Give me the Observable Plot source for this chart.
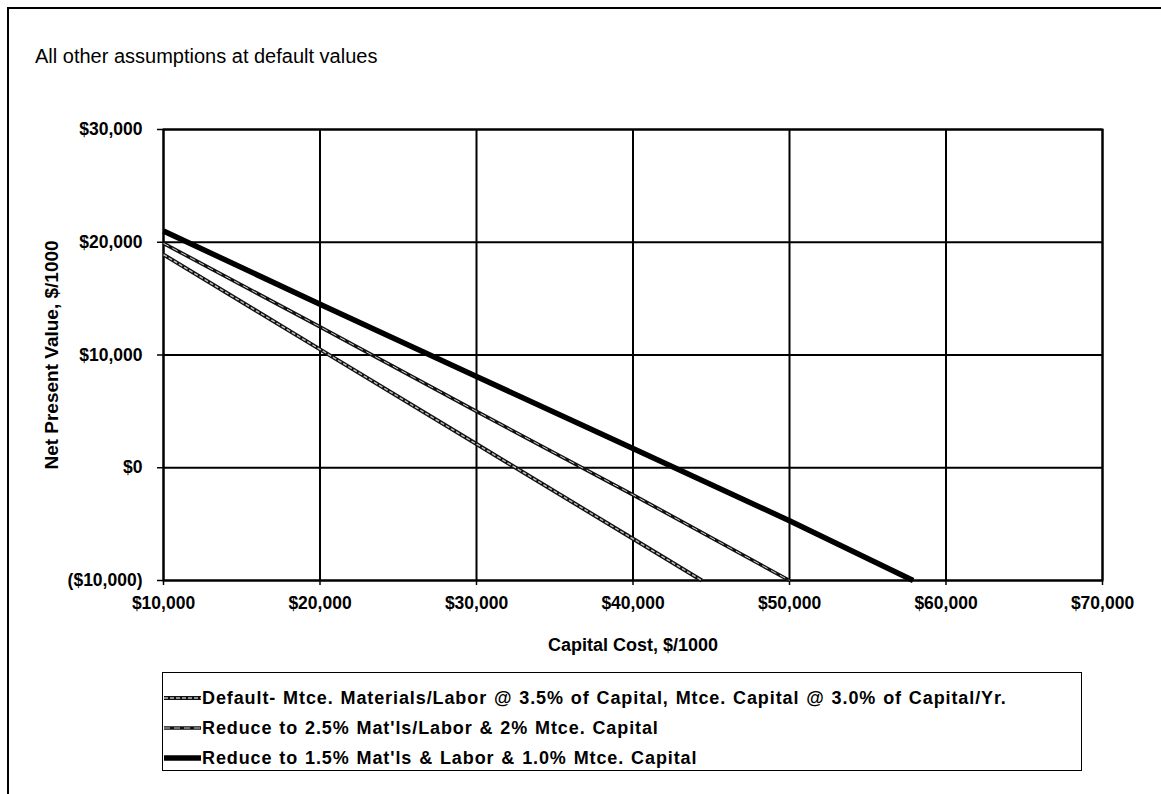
<!DOCTYPE html>
<html>
<head>
<meta charset="utf-8">
<script src="https://cdn.jsdelivr.net/npm/d3@7"></script>
<script src="https://cdn.jsdelivr.net/npm/@observablehq/plot@0.6"></script>
<style>
  body { margin: 0; background: #fff; }
  #page { position: relative; width: 1161px; height: 794px; overflow: hidden; font-family: "Liberation Sans", Arial, sans-serif; color: #000; }
  #border { position: absolute; left: 7px; top: 7px; width: 1170px; height: 785px; border-left: 2px solid #000; border-top: 2px solid #000; border-bottom: 1px solid #bbb; }
  #title { position: absolute; left: 35px; top: 45px; font-size: 20px; white-space: nowrap; }
  #chart { position: absolute; left: 0; top: 0; }
  #legend { position: absolute; left: 162px; top: 672px; width: 918px; height: 97px; border: 1.5px solid #000; background: #fff; }
  .row { position: absolute; left: 0; height: 30px; display: flex; align-items: center; white-space: nowrap; font-weight: bold; font-size: 18px; letter-spacing: 0.9px; word-spacing: 1px; }
  .row svg { display: block; margin-right: 1px; }
</style>
</head>
<body>
<div id="page">
  <div id="border"></div>
  <div id="title">All other assumptions at default values</div>
  <div id="chart"></div>
  <div id="legend"></div>
</div>
<script>
// Net present value ($/1000) against capital cost ($/1000) for three maintenance assumptions
const seriesNames = [
  "Default- Mtce. Materials/Labor @ 3.5% of Capital, Mtce. Capital @ 3.0% of Capital/Yr.",
  "Reduce to 2.5% Mat'ls/Labor & 2% Mtce. Capital",
  "Reduce to 1.5% Mat'ls & Labor & 1.0% Mtce. Capital"
];
const defaultCost = [10000, 20000, 30000, 40000, 44400];
const defaultNpv  = [18900, 10500, 2100, -6300, -10000];
const reduce2Cost = [10000, 20000, 30000, 40000, 50000];
const reduce2Npv  = [19900, 12500, 5000, -2400, -10000];
const reduce1Cost = [10000, 20000, 30000, 40000, 50000, 57900];
const reduce1Npv  = [21000, 14500, 8100, 1700, -4700, -10000];

const xTicks = [10000, 20000, 30000, 40000, 50000, 60000, 70000];
const yTicks = [-10000, 0, 10000, 20000, 30000];

const toRows = (costs, npvs, name) => costs.map((c, i) => ({cost: c, npv: npvs[i], series: name}));
const rowsDefault = toRows(defaultCost, defaultNpv, seriesNames[0]);
const rowsReduce2 = toRows(reduce2Cost, reduce2Npv, seriesNames[1]);
const rowsReduce1 = toRows(reduce1Cost, reduce1Npv, seriesNames[2]);

// Accounting-style currency: $10,000 and ($10,000)
const money = v => {
  const s = "$" + d3.format(",")(Math.abs(v));
  return v < 0 ? "(" + s + ")" : s;
};

// Line styles: outlined grey line, outlined light line, solid heavy line
const styles = [
  [{stroke: "#111", strokeWidth: 4}, {stroke: "#bdbdbd", strokeWidth: 1.4, strokeDasharray: "4,2"}],
  [{stroke: "#111", strokeWidth: 3.6}, {stroke: "#e6e6e6", strokeWidth: 0.9, strokeDasharray: "6,4"}],
  [{stroke: "#000", strokeWidth: 5.5}]
];
const seriesRows = [rowsDefault, rowsReduce2, rowsReduce1];

const lineMarks = seriesRows.flatMap((rows, i) =>
  styles[i].map(s => Plot.line(rows, {x: "cost", y: "npv", ...s, strokeLinecap: "butt"}))
);

const chart = Plot.plot({
  width: 1161,
  height: 794,
  marginLeft: 163,
  marginRight: 59,
  marginTop: 129,
  marginBottom: 214,
  x: {domain: [10000, 70000]},
  y: {domain: [-10000, 30000]},
  style: {fontFamily: "'Liberation Sans', Arial, sans-serif", fontSize: "17.5px", fontWeight: "bold", color: "#000", background: "transparent"},
  marks: [
    Plot.gridX(xTicks, {stroke: "#000", strokeOpacity: 1, strokeWidth: 2}),
    Plot.gridY(yTicks, {stroke: "#000", strokeOpacity: 1, strokeWidth: 2}),
    Plot.frame({stroke: "#000", strokeWidth: 2}),
    Plot.axisX(xTicks, {
      tickFormat: money, tickSize: 5, tickPadding: 11, strokeWidth: 1.5, label: null
    }),
    Plot.axisX([], {
      label: "Capital Cost, $/1000", labelAnchor: "center", labelArrow: "none", labelOffset: 70, fontSize: 18
    }),
    Plot.axisY(yTicks, {
      tickFormat: money, tickSize: 6, tickPadding: 15, strokeWidth: 1.5, label: null
    }),
    Plot.axisY([], {
      label: "Net Present Value, $/1000", labelAnchor: "center", labelArrow: "none", labelOffset: 119, fontSize: 19
    }),
    ...lineMarks
  ]
});
document.getElementById("chart").appendChild(chart);

// Legend rows with line swatches
const legend = document.getElementById("legend");
seriesNames.forEach((name, i) => {
  const row = document.createElement("div");
  row.className = "row";
  row.style.top = (10 + i * 30) + "px";
  const ns = "http://www.w3.org/2000/svg";
  const sw = document.createElementNS(ns, "svg");
  sw.setAttribute("width", 38);
  sw.setAttribute("height", 10);
  styles[i].forEach(s => {
    const l = document.createElementNS(ns, "line");
    l.setAttribute("x1", 1); l.setAttribute("x2", 38);
    l.setAttribute("y1", 5); l.setAttribute("y2", 5);
    l.setAttribute("stroke", s.stroke);
    l.setAttribute("stroke-width", s.strokeWidth);
    if (s.strokeDasharray) l.setAttribute("stroke-dasharray", s.strokeDasharray);
    sw.appendChild(l);
  });
  row.appendChild(sw);
  const t = document.createElement("span");
  t.textContent = name;
  row.appendChild(t);
  legend.appendChild(row);
});
</script>
</body>
</html>
